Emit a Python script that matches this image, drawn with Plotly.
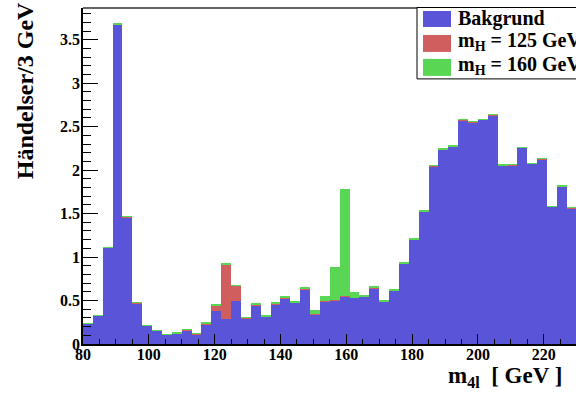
import numpy as np
import plotly.graph_objects as go

# ---- data ----
bin_edges_start = 80
bin_width = 3
background = [0.235, 0.327, 1.11, 3.675, 1.46, 0.47, 0.21, 0.15, 0.107, 0.12,
              0.16, 0.109, 0.225, 0.384, 0.292, 0.499, 0.292, 0.445, 0.312, 0.458,
              0.525, 0.476, 0.629, 0.342, 0.486, 0.499, 0.545, 0.53, 0.545, 0.644,
              0.484, 0.613, 0.923, 1.198, 1.523, 2.043, 2.234, 2.272, 2.574, 2.552,
              2.578, 2.632, 2.055, 2.058, 2.257, 2.074, 2.127, 1.577, 1.806, 1.562]
signal_125 = [0.003, 0.003, 0.003, 0.005, 0.004, 0.004, 0.003, 0.003, 0.003, 0.004,
              0.005, 0.011, 0.015, 0.063, 0.625, 0.17, 0.012, 0.006, 0.005, 0.006,
              0.005, 0.004, 0.004, 0.004, 0.004, 0.004, 0.004, 0.004, 0.004, 0.004,
              0.004, 0.004, 0.004, 0.004, 0.004, 0.005, 0.004, 0.004, 0.004, 0.004,
              0.004, 0.006, 0.003, 0.004, 0.004, 0.003, 0.005, 0.004, 0.006, 0.005]
signal_160 = [0.002, 0.002, 0.002, 0.002, 0.002, 0.002, 0.002, 0.002, 0.002, 0.006,
              0.006, 0.002, 0.003, 0.003, 0.004, 0.003, 0.004, 0.012, 0.012, 0.01,
              0.015, 0.017, 0.027, 0.04, 0.058, 0.382, 1.238, 0.068, 0.011, 0.008,
              0.008, 0.008, 0.006, 0.006, 0.006, 0.006, 0.006, 0.005, 0.006, 0.006,
              0.005, 0.006, 0.004, 0.005, 0.005, 0.004, 0.006, 0.005, 0.006, 0.004]
series_names = ["Bakgrund", "m<sub>H</sub> = 125 GeV", "m<sub>H</sub> = 160 GeV"]
series_colors = ["#5954d8", "#d05e5e", "#5ad655"]

centers = [bin_edges_start + bin_width * (i + 0.5) for i in range(len(background))]

FONT = "Liberation Serif"

fig = go.Figure()
for vals, name, col in zip([background, signal_125, signal_160], series_names, series_colors):
    fig.add_trace(go.Bar(x=centers, y=vals, width=bin_width, name=name,
                         marker=dict(color=col, line=dict(width=0)),
                         showlegend=False))

fig.update_layout(
    width=576, height=394,
    margin=dict(l=83, r=0, t=8, b=50, autoexpand=False),
    barmode="stack", bargap=0,
    plot_bgcolor="white", paper_bgcolor="white",
    font=dict(family=FONT, color="black"),
)

fig.update_xaxes(
    range=[80, 229.8], tickvals=list(range(80, 230, 20)),
    ticks="inside", ticklen=10, tickwidth=1, tickcolor="black",
    minor=dict(dtick=5, tick0=80, ticks="inside", ticklen=5, tickcolor="black", tickwidth=1),
    showline=True, linecolor="black", linewidth=2,
    showgrid=False, zeroline=False, ticklabelstandoff=-5,
    tickfont=dict(family=FONT, size=16, weight="bold"),
)
fig.update_yaxes(
    range=[0, 3.865], tickvals=[0, 0.5, 1, 1.5, 2, 2.5, 3, 3.5],
    ticktext=["0", "0.5", "1", "1.5", "2", "2.5", "3", "3.5"],
    ticks="inside", ticklen=15, tickwidth=1, tickcolor="black",
    minor=dict(dtick=0.1, tick0=0, ticks="inside", ticklen=8, tickcolor="black", tickwidth=1),
    showline=True, linecolor="black", linewidth=1.5,
    showgrid=False, zeroline=False, ticklabelstandoff=-2,
    tickfont=dict(family=FONT, size=16, weight="bold"),
)

# top frame line
fig.add_shape(type="line", xref="paper", yref="paper", x0=0, x1=1, y0=1, y1=1,
              line=dict(color="#333333", width=1.5))

pw, ph = 493, 336.5
def px(xp):
    return (xp - 83) / pw
def py(yp):
    return (344.5 - yp) / ph

# axis titles
fig.add_annotation(text="<b>m<sub>4l</sub>  [ GeV ]</b>", xref="paper", yref="paper",
                   x=px(564), y=py(378), xanchor="right", yanchor="middle",
                   showarrow=False, font=dict(family=FONT, size=23))
fig.add_annotation(text="<b>Händelser/3 GeV</b>", xref="paper", yref="paper",
                   x=px(25), y=py(182), xanchor="center", yanchor="bottom", textangle=-90,
                   showarrow=False, font=dict(family=FONT, size=24))

# legend (manual, ROOT-like)
fig.add_shape(type="rect", xref="paper", yref="paper",
              x0=px(417), x1=px(640), y0=py(79), y1=py(7.5),
              line=dict(color="black", width=1), fillcolor="white")
rows = [(11, 27, 19), (35, 52, 42), (59, 76, 66)]
for (y0, y1, yc), name, col in zip(rows, series_names, series_colors):
    fig.add_shape(type="rect", xref="paper", yref="paper",
                  x0=px(423), x1=px(451), y0=py(y1), y1=py(y0),
                  line=dict(width=0), fillcolor=col)
    fig.add_annotation(text="<b>" + name + "</b>", xref="paper", yref="paper",
                       x=px(456), y=py(yc), xanchor="left", yanchor="middle",
                       showarrow=False, font=dict(family=FONT, size=20))

fig.write_html("out.html")
